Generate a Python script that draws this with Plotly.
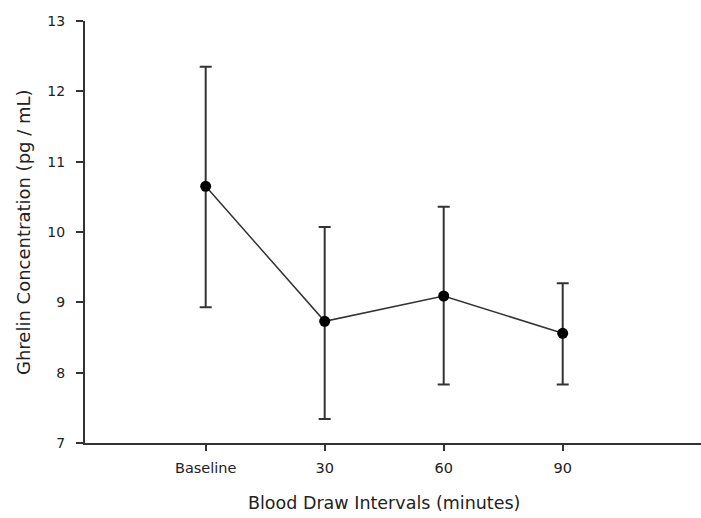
import plotly.graph_objects as go

categories = ["Baseline", "30", "60", "90"]
positions = [0, 1, 2, 3]
means = [10.65, 8.73, 9.09, 8.56]
upper = [12.35, 10.07, 10.36, 9.27]
lower = [8.93, 7.34, 7.83, 7.83]
y_ticks = [7, 8, 9, 10, 11, 12, 13]

err_plus = [u - m for u, m in zip(upper, means)]
err_minus = [m - l for m, l in zip(means, lower)]

fig = go.Figure()
fig.add_trace(go.Scatter(
    x=positions, y=means, mode="lines+markers",
    line=dict(color="#333333", width=1.5),
    marker=dict(color="black", size=11),
    error_y=dict(type="data", symmetric=False, array=err_plus, arrayminus=err_minus,
                 color="#333333", thickness=2, width=6),
    showlegend=False,
))

font = "DejaVu Sans, sans-serif"
fig.update_layout(
    width=701, height=518,
    margin=dict(l=85, r=0, t=21, b=75),
    plot_bgcolor="white", paper_bgcolor="white",
    font=dict(family=font, color="#222222"),
    xaxis=dict(range=[-1.014, 4.162], tickvals=positions, ticktext=categories,
               showgrid=False, zeroline=False, showline=True, linecolor="#333333", linewidth=2,
               ticks="outside", ticklen=6, tickwidth=2, tickcolor="#333333",
               tickfont=dict(size=14.5), ticklabelstandoff=5),
    yaxis=dict(range=[7, 13], tickvals=y_ticks,
               showgrid=False, zeroline=False, showline=True, linecolor="#333333", linewidth=2,
               ticks="outside", ticklen=7, tickwidth=2, tickcolor="#333333",
               tickfont=dict(size=14), ticklabelstandoff=8),
    annotations=[
        dict(text="Blood Draw Intervals (minutes)", xref="paper", yref="paper",
             x=(384 - 85) / 616, y=-(503 - 442.7) / 422, xanchor="center", yanchor="middle",
             showarrow=False, font=dict(size=17.5, color="#222222")),
        dict(text="Ghrelin Concentration (pg / mL)", xref="paper", yref="paper",
             x=-(85 - 23) / 616, y=0.5, xanchor="center", yanchor="middle", textangle=-90,
             showarrow=False, font=dict(size=18, color="#222222")),
    ],
)

fig.write_html("out.html")
